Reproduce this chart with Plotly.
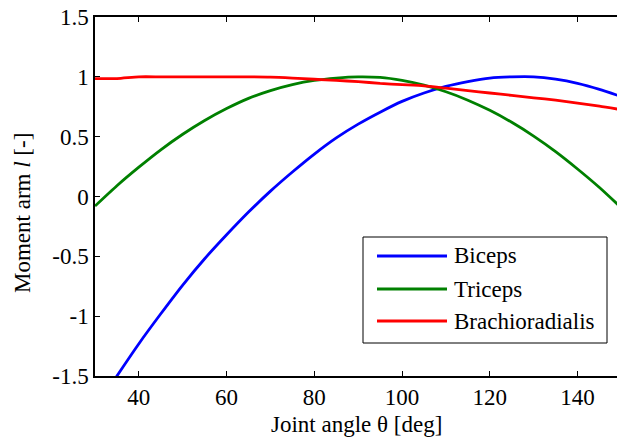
import plotly.graph_objects as go

# ---- data ----
theta = [30, 35, 40, 45, 50, 55, 60, 65, 70, 75, 80, 85, 90, 95, 100,
         105, 110, 115, 120, 125, 130, 135, 140, 145, 150]
biceps = [-1.78, -1.50, -1.23, -0.98, -0.74, -0.52, -0.32, -0.13, 0.045, 0.205,
          0.355, 0.49, 0.605, 0.705, 0.795, 0.865, 0.92, 0.96, 0.99, 1.00,
          1.00, 0.98, 0.945, 0.895, 0.835]
triceps = [-0.08, 0.09, 0.245, 0.39, 0.52, 0.635, 0.735, 0.82, 0.885, 0.935,
           0.97, 0.99, 1.00, 0.995, 0.97, 0.93, 0.875, 0.805, 0.72, 0.62,
           0.505, 0.375, 0.23, 0.075, -0.095]
brachio = [0.985, 0.985, 1.0, 1.0, 1.0, 1.0, 1.0, 1.0, 0.998, 0.99,
           0.98, 0.97, 0.96, 0.945, 0.935, 0.925, 0.905, 0.885, 0.865, 0.845,
           0.825, 0.805, 0.78, 0.755, 0.725]
names = ["Biceps", "Triceps", "Brachioradialis"]
colors = ["#0000FF", "#008000", "#FF0000"]
x_ticks = [40, 60, 80, 100, 120, 140]
y_ticks = [-1.5, -1, -0.5, 0, 0.5, 1, 1.5]
y_tick_text = ["-1.5", "-1", "-0.5", "0", "0.5", "1", "1.5"]

W, H = 617, 438
L, R, T, B = 95, 0, 17, 62
FONT = "Liberation Serif, Times New Roman, serif"
FS = 23

fig = go.Figure()
for name, ys, c in zip(names, [biceps, triceps, brachio], colors):
    fig.add_trace(go.Scatter(x=theta, y=ys, mode="lines", name=name,
                             line=dict(color=c, width=2.8, shape="spline", smoothing=0.6),
                             showlegend=False))

# pixel -> paper helpers for layout elements
pw, ph = W - L - R, H - T - B
def px(x):
    return (x - L) / pw
def py(y):
    return (H - B - y) / ph

shapes = [dict(type="rect", xref="paper", yref="paper",
               x0=px(363), x1=px(607), y0=py(343), y1=py(237),
               line=dict(color="black", width=1), fillcolor="white", layer="above")]
annotations = []
for i, (name, c) in enumerate(zip(names, colors)):
    yy = [256, 289, 321][i]
    shapes.append(dict(type="line", xref="paper", yref="paper",
                       x0=px(377), x1=px(447), y0=py(yy), y1=py(yy),
                       line=dict(color=c, width=2.8), layer="above"))
    annotations.append(dict(xref="paper", yref="paper", x=px(452), y=py(yy),
                            text=name, showarrow=False, xanchor="left", yanchor="middle",
                            font=dict(family=FONT, size=FS, color="black")))

annotations.append(dict(xref="paper", yref="paper", x=0.5, y=py(424),
                        text="Joint angle \u03b8 [deg]", showarrow=False,
                        xanchor="center", yanchor="middle",
                        font=dict(family=FONT, size=FS, color="black")))
annotations.append(dict(xref="paper", yref="paper", x=px(22), y=py(213),
                        text="Moment arm <i>l</i> [-]", showarrow=False, textangle=-90,
                        xanchor="center", yanchor="middle",
                        font=dict(family=FONT, size=FS, color="black")))

fig.update_layout(
    width=W, height=H,
    margin=dict(l=L, r=R, t=T, b=B, autoexpand=False),
    paper_bgcolor="white", plot_bgcolor="white",
    font=dict(family=FONT, size=FS, color="black"),
    shapes=shapes, annotations=annotations,
    xaxis=dict(range=[30, 149], tickvals=x_ticks, ticks="inside", ticklen=5,
               tickcolor="black", showline=True, linecolor="black", linewidth=1.5,
               mirror="ticks", showgrid=False, zeroline=False,
               tickfont=dict(family=FONT, size=FS), automargin=False),
    yaxis=dict(range=[-1.5, 1.5], tickvals=y_ticks, ticktext=y_tick_text,
               ticks="inside", ticklen=5, tickcolor="black", showline=True,
               linecolor="black", linewidth=1.5, mirror=False, showgrid=False,
               zeroline=False, tickfont=dict(family=FONT, size=FS), automargin=False),
    yaxis2=dict(range=[-1.5, 1.5], tickvals=y_ticks, overlaying="y", side="right",
                anchor="x", ticks="inside", ticklen=5, tickcolor="black",
                showline=False, showgrid=False, zeroline=False,
                showticklabels=False, automargin=False),
)

fig.write_html("out.html", config={"displayModeBar": False},
               post_script="document.body.style.margin='0';document.body.style.overflow='hidden';")
